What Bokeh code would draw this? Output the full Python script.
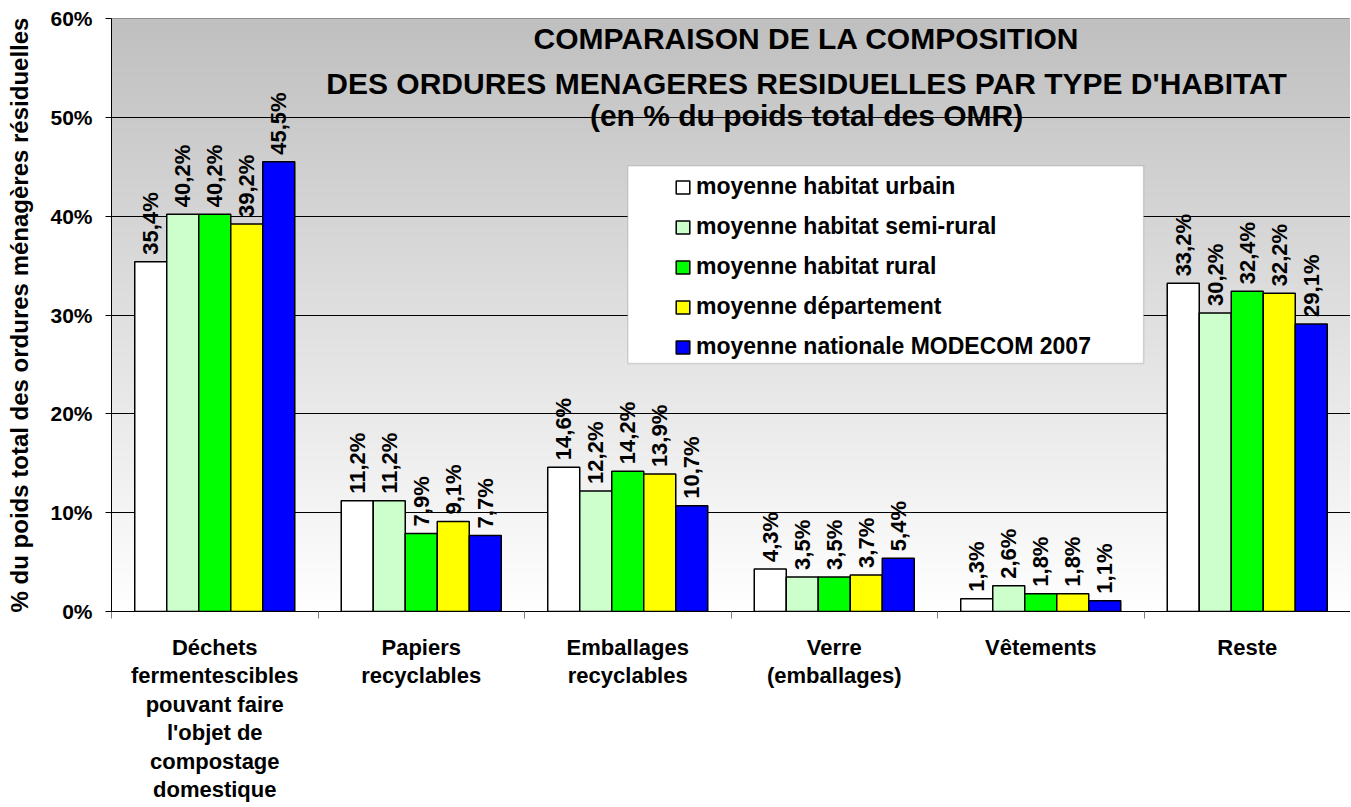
import numpy as np
from bokeh.plotting import figure
from bokeh.models import (FixedTicker, PrintfTickFormatter, Label, BoxAnnotation,
                          Legend, LegendItem, Range1d, ColumnDataSource)
from bokeh.core.properties import value
from bokeh.embed import file_html
from bokeh.resources import INLINE

# ---------------- data ----------------
categories = [
    "Déchets\nfermentescibles\npouvant faire\nl'objet de\ncompostage\ndomestique",
    "Papiers\nrecyclables",
    "Emballages\nrecyclables",
    "Verre\n(emballages)",
    "Vêtements",
    "Reste",
]
series_names = [
    "moyenne habitat urbain",
    "moyenne habitat semi-rural",
    "moyenne habitat rural",
    "moyenne département",
    "moyenne nationale MODECOM 2007",
]
series_colors = ["#FFFFFF", "#CCFFCC", "#00FF00", "#FFFF00", "#0000FF"]

urbain = [35.4, 11.2, 14.6, 4.3, 1.3, 33.2]
semi_rural = [40.2, 11.2, 12.2, 3.5, 2.6, 30.2]
rural = [40.2, 7.9, 14.2, 3.5, 1.8, 32.4]
departement = [39.2, 9.1, 13.9, 3.7, 1.8, 32.2]
national = [45.5, 7.7, 10.7, 5.4, 1.1, 29.1]
series_values = [urbain, semi_rural, rural, departement, national]

y_ticks = [0, 10, 20, 30, 40, 50, 60]

title_lines = [
    "COMPARAISON DE LA COMPOSITION",
    "DES ORDURES MENAGERES RESIDUELLES PAR TYPE D'HABITAT",
    "(en % du poids total des OMR)",
]
y_label = "% du poids total des ordures ménagères résiduelles"

FONT = "Liberation Sans"

# ---------------- figure ----------------
p = figure(width=1350, height=806, x_range=Range1d(-0.5, 5.5), y_range=Range1d(0, 60),
           output_backend="svg", toolbar_location=None,
           min_border_left=111, min_border_right=0, min_border_top=18, min_border_bottom=195)
p.background_fill_color = "white"
p.border_fill_color = "white"
p.outline_line_color = "#808080"

# gradient background (gray top -> white bottom)
n = 256
t = np.linspace(0, 1, n)  # 0 bottom, 1 top
g = (255 - t * (255 - 192)).astype(np.uint8)
img = np.zeros((n, 1), dtype=np.uint32)
view = img.view(dtype=np.uint8).reshape((n, 1, 4))
view[:, 0, 0] = g
view[:, 0, 1] = g
view[:, 0, 2] = g
view[:, 0, 3] = 255
p.image_rgba(image=[img], x=-0.5, y=0, dw=6, dh=60, level="image")

# grid
p.xgrid.visible = False
p.ygrid.ticker = FixedTicker(ticks=y_ticks)
p.ygrid.grid_line_color = "black"
p.ygrid.grid_line_width = 1

# bars
bw = 0.155
pos = np.arange(len(categories))
items = []
for i, (name, vals, col) in enumerate(zip(series_names, series_values, series_colors)):
    src = ColumnDataSource(dict(
        x=pos + (i - 2) * bw,
        top=vals,
        lab=[f"{v:.1f}".replace(".", ",") + "%" for v in vals],
    ))
    r = p.vbar(x="x", top="top", width=bw, source=src, fill_color=col,
               line_color="black", line_width=1.5)
    p.text(x="x", y="top", text="lab", source=src, angle=np.pi / 2,
           text_align="left", text_baseline="middle", y_offset=-7,
           text_font=value(FONT), text_font_style="bold", text_font_size="22px",
           text_color="black")
    items.append(LegendItem(label=name, renderers=[r]))

# axes
yax = p.yaxis[0]
yax.ticker = FixedTicker(ticks=y_ticks)
yax.formatter = PrintfTickFormatter(format="%d%%")
yax.major_label_text_font = FONT
yax.major_label_text_font_style = "bold"
yax.major_label_text_font_size = "21px"
yax.major_label_text_color = "black"
yax.major_tick_out = 6
yax.major_tick_in = 0
yax.minor_tick_out = 0
yax.minor_tick_in = 0
yax.major_label_standoff = 13
yax.axis_line_color = "black"
yax.major_tick_line_color = "black"
yax.axis_label = y_label
yax.axis_label_text_font = FONT
yax.axis_label_text_font_style = "bold"
yax.axis_label_text_font_size = "24px"
yax.axis_label_text_color = "black"
yax.axis_label_standoff = 14

xax = p.xaxis[0]
xax.ticker = FixedTicker(ticks=[int(k) for k in pos],
                         minor_ticks=[k - 0.5 for k in range(len(categories) + 1)])
xax.major_label_overrides = {int(k): c for k, c in zip(pos, categories)}
xax.major_label_text_font = FONT
xax.major_label_text_font_style = "bold"
xax.major_label_text_font_size = "22px"
xax.major_label_text_color = "black"
xax.major_label_text_line_height = 1.14
xax.major_label_standoff = 16
xax.major_tick_out = 0
xax.major_tick_in = 0
xax.minor_tick_out = 7
xax.minor_tick_in = 0
xax.minor_tick_line_color = "#808080"
xax.axis_line_color = "black"

# title inside plot
for line, yv in zip(title_lines, [57.97, 53.41, 50.17]):
    p.add_layout(Label(x=2.866, y=yv, text=line, text_align="center",
                       text_baseline="alphabetic", text_font=FONT,
                       text_font_style="bold", text_font_size="30px", text_color="black"))

# legend box + legend
p.add_layout(BoxAnnotation(left=2.0, right=4.498, bottom=25.1, top=45.1,
                           fill_color="white", fill_alpha=1.0,
                           line_color="#808080", line_width=1.5))
legend = Legend(items=items, location=(563, 251), border_line_color=None,
                background_fill_alpha=0.0, padding=0, spacing=13,
                glyph_width=17, glyph_height=16, label_standoff=5,
                label_height=16, label_text_font=FONT, label_text_font_style="bold",
                label_text_font_size="23px", label_text_color="black", margin=0)
p.add_layout(legend)

open("out.html", "w").write(file_html(p, INLINE))
